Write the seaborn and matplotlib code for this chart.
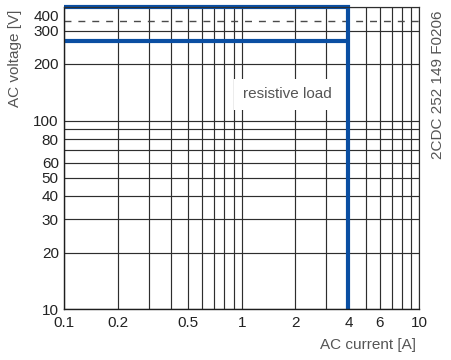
import matplotlib
matplotlib.use('Agg')
import matplotlib.pyplot as plt
import matplotlib.transforms as mtransforms
import seaborn as sns
import pandas as pd
import numpy as np

sns.set_style('white')
plt.rcParams['font.family'] = ['Liberation Sans', 'DejaVu Sans']

# ---- data ----
x_grid = [0.1, 0.2, 0.3, 0.4, 0.5, 0.6, 0.7, 0.8, 0.9, 1, 2, 3, 4, 5, 6, 7, 8, 9, 10]
x_labels = {0.1: '0.1', 0.2: '0.2', 0.5: '0.5', 1: '1', 2: '2', 4: '4', 6: '6', 10: '10'}
y_grid = [10, 20, 30, 40, 50, 60, 70, 80, 90, 100, 200, 300, 400]
y_labels = {10: '10', 20: '20', 30: '30', 40: '40', 50: '50', 60: '60',
            80: '80', 100: '100', 200: '200', 300: '300', 400: '400'}

# limit curve for resistive load (AC current [A], AC voltage [V])
limit_outer_x = [0.1, 4, 4]
limit_outer_y = [400, 400, 10]
limit_inner_x = [0.1, 4]
limit_inner_y = [265, 265]
dashed_x = [0.1, 10]
dashed_y = [340, 340]

df = pd.concat([
    pd.DataFrame({'current': limit_outer_x, 'voltage': limit_outer_y, 'seg': 'outer'}),
    pd.DataFrame({'current': limit_inner_x, 'voltage': limit_inner_y, 'seg': 'inner'}),
])
df_dash = pd.DataFrame({'current': dashed_x, 'voltage': dashed_y})

fig = plt.figure(figsize=(4.51, 3.6), dpi=100)
ax = fig.add_axes([0.1426, 0.1408, 0.7864, 0.8392])

ax.set_xscale('log')
ax.set_yscale('log')
ax.set_xlim(0.1, 10)
ax.set_ylim(10, 400)

grid_c = '#2e2e2e'
ax.set_xticks(x_grid)
ax.set_xticklabels([x_labels.get(v, '') for v in x_grid])
ax.set_yticks(y_grid)
ax.set_yticklabels([y_labels.get(v, '') for v in y_grid])
ax.minorticks_off()
ax.grid(True, color=grid_c, lw=0.85)
ax.tick_params(length=0, labelsize=11, colors='#222222', pad=4)
ax.tick_params(axis='x', pad=5)

for s in ['left', 'bottom']:
    ax.spines[s].set_color('#1e1e1e')
    ax.spines[s].set_linewidth(1.0)
for s in ['right', 'top']:
    ax.spines[s].set_color(grid_c)
    ax.spines[s].set_linewidth(0.85)

sns.lineplot(data=df_dash, x='current', y='voltage', ax=ax, color='#4a4a4a',
             lw=1.0, dashes=False, estimator=None, sort=False, legend=False)
ax.lines[-1].set_dashes((5, 5))

sns.lineplot(data=df, x='current', y='voltage', units='seg', estimator=None,
             sort=False, ax=ax, color='#0a4ea2', lw=3.0, legend=False)
for ln in ax.lines[1:]:
    ln.set_clip_on(False)
    ln.set_solid_capstyle('butt')
    ln.set_solid_joinstyle('miter')

# shift the "400" label slightly down as in the original
for t in ax.get_yticklabels():
    if t.get_text() == '400':
        t.set_transform(t.get_transform() + mtransforms.ScaledTranslation(0, -6 / 72, fig.dpi_scale_trans))

ax.text(1.8, 138, 'resistive load', fontsize=11, color='#555555', ha='center', va='center',
        bbox=dict(boxstyle='square,pad=0.55', fc='white', ec='none'), zorder=3)

ax.set_xlabel('AC current [A]', fontsize=11, color='#555555')
ax.set_ylabel('AC voltage [V]', fontsize=11, color='#555555')
ax.xaxis.set_label_coords(0.855, -0.095)
ax.yaxis.set_label_coords(-0.12, 0.83)

fig.text(0.971, 0.765, '2CDC 252 149 F0206', rotation=90, fontsize=11, color='#555555',
         ha='center', va='center')

fig.savefig('out.png', dpi=100)
